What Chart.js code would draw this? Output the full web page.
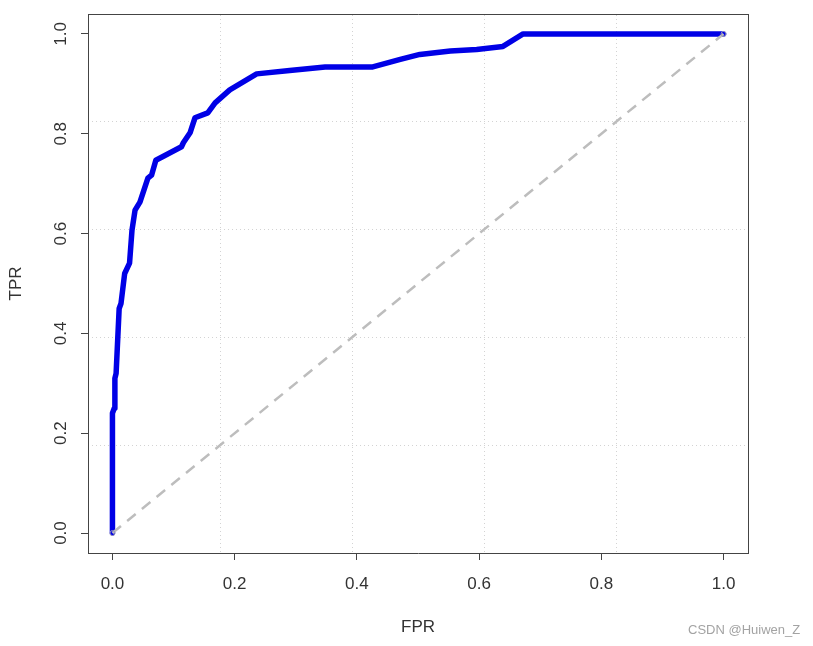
<!DOCTYPE html>
<html>
<head>
<meta charset="utf-8">
<script src="https://cdn.jsdelivr.net/npm/chart.js@4/dist/chart.umd.min.js"></script>
<style>
  body { margin: 0; background: #fff; }
  #wrap { position: relative; width: 813px; height: 646px; }
  #mark {
    position: absolute; left: 688px; top: 622px;
    font: 13px "Liberation Sans", Arial, sans-serif;
    color: #a3a3a3;
  }
</style>
</head>
<body>
<div id="wrap">
  <canvas id="roc" width="813" height="646"></canvas>
  <div id="mark">CSDN @Huiwen_Z</div>
</div>
<script>
// ROC curve
const fprValues = [0, 0, 0.003, 0.004, 0.006, 0.011, 0.014, 0.02, 0.028, 0.032, 0.037, 0.045,
  0.058, 0.064, 0.071, 0.113, 0.116, 0.127, 0.135, 0.156, 0.168, 0.192, 0.214, 0.236, 0.29,
  0.348, 0.426, 0.471, 0.503, 0.553, 0.596, 0.639, 0.672, 1.0];
const tprValues = [0, 0.24, 0.25, 0.31, 0.32, 0.45, 0.46, 0.52, 0.541, 0.607, 0.647, 0.663,
  0.711, 0.717, 0.747, 0.774, 0.782, 0.802, 0.832, 0.842, 0.862, 0.888, 0.904, 0.92, 0.927,
  0.934, 0.934, 0.949, 0.959, 0.966, 0.969, 0.975, 1.0, 1.0];
const diagX = [0, 1];
const diagY = [0, 1];
const axisTicks = [0, 0.2, 0.4, 0.6, 0.8, 1.0];
// grid() lines split the padded range into 5, so they miss the ticks
const gridLines = [0.176, 0.392, 0.608, 0.824];
const axisRange = [-0.04, 1.04];

const FONT = '"Liberation Sans", Arial, sans-serif';
const INK = "#444444";

function toPoints(xs, ys) {
  return xs.map((x, i) => ({ x: x, y: ys[i] }));
}

function fixedTicks(values) {
  return (scale) => {
    scale.ticks = values.map((v) => ({ value: v }));
  };
}

// labels never reach the ends of the padded range, so no extra margin
function noOverflow(scale) {
  scale.paddingTop = 0;
  scale.paddingBottom = 0;
  scale.paddingLeft = 0;
  scale.paddingRight = 0;
}

function gridAxis(position) {
  return {
    type: "linear",
    position: position,
    min: axisRange[0],
    max: axisRange[1],
    afterBuildTicks: fixedTicks(gridLines),
    ticks: { display: false },
    grid: { color: "#d3d3d3", lineWidth: 1, drawTicks: false },
    border: { display: true, color: INK, width: 1, dash: [1, 3] },
    afterFit: (s) => {
      if (s.isHorizontal()) s.height = 0; else s.width = 0;
      noOverflow(s);
    },
  };
}

const ctx = document.getElementById("roc").getContext("2d");

new Chart(ctx, {
  type: "scatter",
  data: {
    datasets: [
      {
        data: toPoints(diagX, diagY),
        showLine: true,
        borderColor: "#bdbdbd",
        borderWidth: 2.5,
        borderDash: [11, 8],
        pointRadius: 2.5,
        pointBorderColor: "#9a9ab8",
        pointBackgroundColor: "rgba(0,0,0,0)",
        pointBorderWidth: 1,
      },
      {
        data: toPoints(fprValues, tprValues),
        showLine: true,
        borderColor: "#0000e6",
        borderWidth: 5.5,
        borderCapStyle: "round",
        borderJoinStyle: "round",
        pointRadius: 0,
        tension: 0,
      },
    ],
  },
  options: {
    responsive: false,
    animation: false,
    layout: { padding: { top: 14, right: 65, left: 0, bottom: 0 } },
    plugins: {
      legend: { display: false },
      tooltip: { enabled: false },
    },
    scales: {
      x: {
        type: "linear",
        position: "bottom",
        min: axisRange[0],
        max: axisRange[1],
        afterBuildTicks: fixedTicks(axisTicks),
        ticks: {
          autoSkip: false,
          maxRotation: 0,
          padding: 14,
          color: "#333333",
          font: { family: FONT, size: 17 },
          callback: (v) => v.toFixed(1),
        },
        grid: { display: true, drawOnChartArea: false, drawTicks: true, tickLength: 7, color: INK },
        border: { display: true, color: INK, width: 1 },
        title: {
          display: true,
          text: "FPR",
          color: "#333333",
          font: { family: FONT, size: 17 },
          padding: { top: 0, bottom: 8 },
        },
        afterFit: (s) => { s.height = 93; noOverflow(s); },
      },
      y: {
        type: "linear",
        position: "left",
        min: axisRange[0],
        max: axisRange[1],
        afterBuildTicks: fixedTicks(axisTicks),
        ticks: {
          autoSkip: false,
          minRotation: 90,
          maxRotation: 90,
          crossAlign: "center",
          padding: 8,
          color: "#333333",
          font: { family: FONT, size: 17 },
          callback: (v) => v.toFixed(1),
        },
        grid: { display: true, drawOnChartArea: false, drawTicks: true, tickLength: 7, color: INK },
        border: { display: true, color: INK, width: 1 },
        title: {
          display: true,
          text: "TPR",
          color: "#333333",
          font: { family: FONT, size: 17 },
          padding: { top: 6, bottom: 0 },
        },
        afterFit: (s) => { s.width = 88; noOverflow(s); },
      },
      gx: gridAxis("top"),
      gy: gridAxis("right"),
    },
  },
});
</script>
</body>
</html>
